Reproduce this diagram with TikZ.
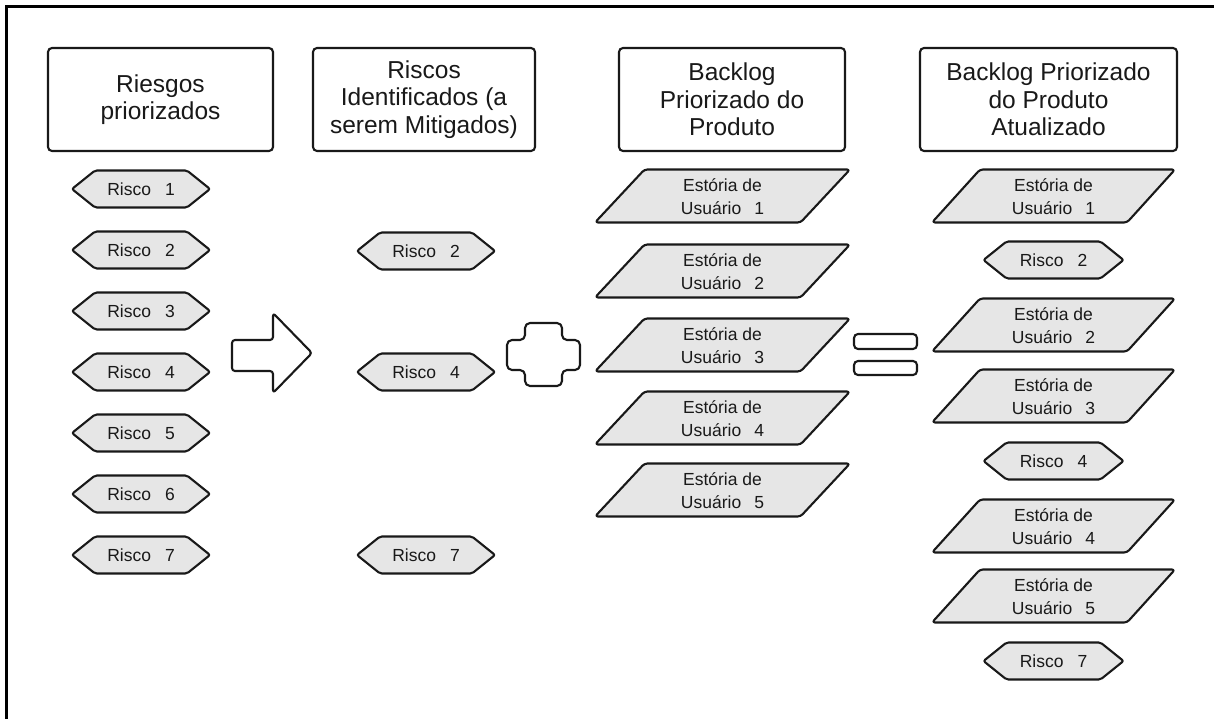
\documentclass[tikz,border=0pt]{standalone}
\usepackage{fontspec}
\setmainfont{Liberation Sans}
\usetikzlibrary{calc}
\definecolor{shapefill}{RGB}{230,230,230}
\definecolor{inkc}{RGB}{25,25,25}
\tikzset{
 outline/.style={draw=inkc, line width=2.1pt, line join=round},
 headbox/.style={outline, rounded corners=4pt, fill=white, align=center, font=\fontsize{24.5}{27.5}\selectfont, text=inkc, inner sep=0pt},
 hexshape/.style={outline, fill=shapefill, rounded corners=2pt},
 parashape/.style={outline, fill=shapefill, rounded corners=3pt},
 itemtext/.style={align=center, font=\fontsize{17.5}{23}\selectfont, text=inkc, inner sep=0pt},
 symshape/.style={outline, fill=white, rounded corners=5pt},
}
\newcommand{\riskhex}[5]{%
 \draw[hexshape, shift={(#2,#3)}] (-#4+23,-18.5) -- (#4-23,-18.5) -- (#4,0) -- (#4-23,18.5) -- (-#4+23,18.5) -- (-#4,0) -- cycle;
 \node[itemtext] (#1) at (#2,#3) {Risco\hspace{14pt}#5};
}
\newcommand{\storypara}[6]{%
 \draw[parashape, shift={(#2,#3)}] (-#4+#5,-26.5) -- (#4,-26.5) -- (#4-#5,26.5) -- (-#4,26.5) -- cycle;
 \node[itemtext] (#1) at (#2,#3+1) {Estória de\\Usuário\hspace{13pt}#6};
}
\begin{document}
\begin{tikzpicture}[x=1pt,y=-1pt]
\useasboundingbox (0,0) rectangle (1214,719);
\fill[white] (0,0) rectangle (1214,719);
\draw[line width=3.5pt, black] (6.5,719) -- (6.5,6.5) -- (1214,6.5);

% headers
\node[headbox, minimum width=225pt, minimum height=103pt] (h1) at (160.5,99.5) {Riesgos\\priorizados};
\node[headbox, minimum width=222pt, minimum height=103pt] (h2) at (424,99.5) {Riscos\\Identificados (a\\serem Mitigados)};
\node[headbox, minimum width=226pt, minimum height=103pt] (h3) at (732,99.5) {Backlog\\Priorizado do\\Produto};
\node[headbox, minimum width=257pt, minimum height=103pt] (h4) at (1048.5,99.5) {Backlog Priorizado\\do Produto\\Atualizado};

% column 1
\riskhex{a1}{141}{189}{69}{1}
\riskhex{a2}{141}{250}{69}{2}
\riskhex{a3}{141}{311}{69}{3}
\riskhex{a4}{141}{372}{69}{4}
\riskhex{a5}{141}{433}{69}{5}
\riskhex{a6}{141}{494}{69}{6}
\riskhex{a7}{141}{555}{69}{7}

% column 2
\riskhex{b2}{426}{251}{69}{2}
\riskhex{b4}{426}{372}{69}{4}
\riskhex{b7}{426}{555}{69}{7}

% column 3
\storypara{c1}{722.5}{196}{127.5}{49.5}{1}
\storypara{c2}{722.5}{271}{127.5}{49.5}{2}
\storypara{c3}{722.5}{345}{127.5}{49.5}{3}
\storypara{c4}{722.5}{418}{127.5}{49.5}{4}
\storypara{c5}{722.5}{490}{127.5}{49.5}{5}

% column 4
\storypara{d1}{1053.5}{196}{121.5}{48}{1}
\riskhex{d2}{1053.5}{260}{70}{2}
\storypara{d3}{1053.5}{325}{121.5}{48}{2}
\storypara{d4}{1053.5}{396}{121.5}{48}{3}
\riskhex{d5}{1053.5}{461}{70}{4}
\storypara{d6}{1053.5}{526}{121.5}{48}{4}
\storypara{d7}{1053.5}{596}{121.5}{48}{5}
\riskhex{d8}{1053.5}{661}{70}{7}

% arrow
\draw[symshape, rounded corners=3pt] (232,340) -- (273,340) -- (273,313) -- (312,353) -- (273,393) -- (273,371) -- (232,371) -- cycle;
% plus
\draw[symshape] (525,323) -- (562,323) -- (562,340) -- (580,340) -- (580,370) -- (562,370) -- (562,386) -- (525,386) -- (525,370) -- (507,370) -- (507,340) -- (525,340) -- cycle;
% equals
\draw[symshape, rounded corners=4pt] (854,334) rectangle (917,349);
\draw[symshape, rounded corners=4pt] (854,361) rectangle (917,375);
\end{tikzpicture}
\end{document}
